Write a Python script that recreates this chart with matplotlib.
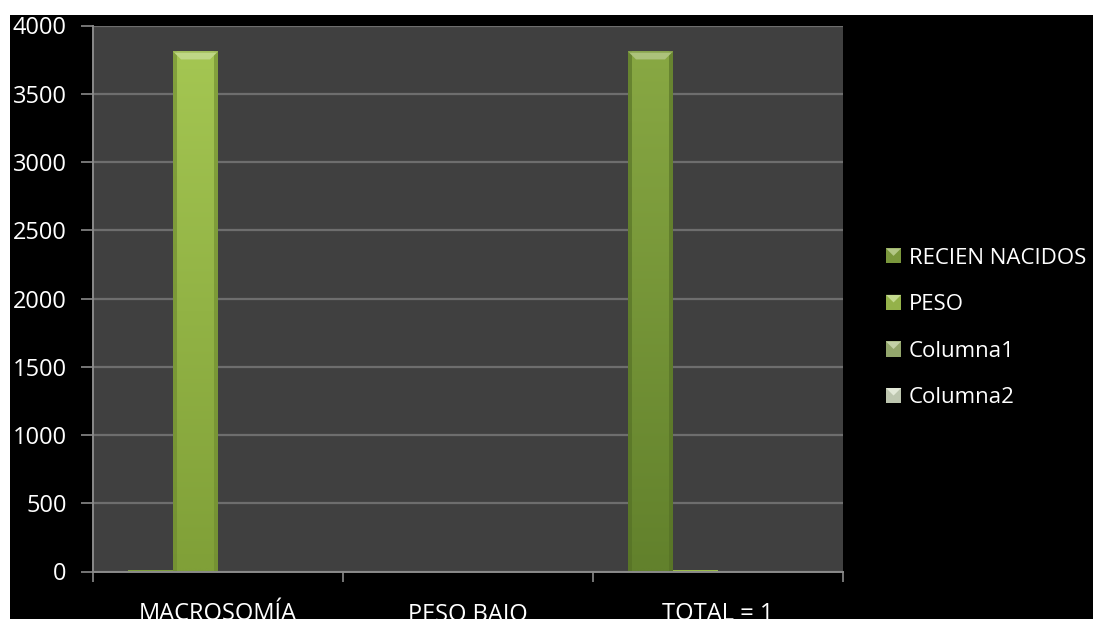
import numpy as np
import matplotlib
matplotlib.use("Agg")
import matplotlib.pyplot as plt
from matplotlib.patches import Rectangle, Polygon
from matplotlib.legend_handler import HandlerBase
from matplotlib.colors import to_rgb

plt.rcParams["font.family"] = ["Open Sans", "DejaVu Sans"]

categorias = ["MACROSOMÍA", "PESO BAJO", "TOTAL = 1"]
series = ["RECIEN NACIDOS", "PESO", "Columna1", "Columna2"]
recien_nacidos = [14, 0, 3810]
peso = [3810, 0, 14]
columna1 = [0, 0, 0]
columna2 = [0, 0, 0]
valores = [recien_nacidos, peso, columna1, columna2]

# color base (arriba, abajo) de cada serie
colores = [("#88a843", "#62812c"),
           ("#a4c652", "#80a038"),
           ("#a3b878", "#7f9457"),
           ("#d2dcc2", "#aab898")]


def aclarar(c, f):
    r, g, b = to_rgb(c)
    return (r + (1 - r) * f, g + (1 - g) * f, b + (1 - b) * f)


def oscurecer(c, f):
    r, g, b = to_rgb(c)
    return (r * (1 - f), g * (1 - f), b * (1 - f))


class HandlerBisel(HandlerBase):
    def create_artists(self, legend, orig_handle, xdescent, ydescent,
                       width, height, fontsize, trans):
        lado = min(width, height)
        x0 = -xdescent + (width - lado) / 2
        y0 = -ydescent + (height - lado) / 2
        c = orig_handle.get_facecolor()
        base = Rectangle((x0, y0), lado, lado, facecolor=oscurecer(c, 0.1),
                         edgecolor="none", transform=trans)
        m = lado * 0.5
        tri = Polygon([(x0, y0 + lado), (x0 + lado, y0 + lado),
                       (x0 + m, y0 + lado - m)], closed=True,
                      facecolor=aclarar(c, 0.35), edgecolor="none",
                      transform=trans)
        return [base, tri]


fig = plt.figure(figsize=(10.93, 6.19), dpi=100, facecolor="black")
W, H = 1093, 619
ax = fig.add_axes([93 / W, (H - 571.5) / H, 750 / W, 546 / H])
ax.set_facecolor("#404040")

x = np.arange(len(categorias))
ancho = 0.18
offsets = (np.arange(len(series)) - 1.5) * ancho

# bisel de las barras, en unidades de datos (~8 px)
dx = 8 / 250
dy = 8 * 4000 / 546

handles = []
for i, (nombre, vals) in enumerate(zip(series, valores)):
    arriba, abajo = colores[i]
    barras = ax.bar(x + offsets[i], vals, width=ancho, color=arriba,
                    edgecolor="none", zorder=3, label=nombre)
    handles.append(Rectangle((0, 0), 1, 1, facecolor=arriba, label=nombre))
    for b in barras:
        x0, y0 = b.get_x(), b.get_y()
        w, h = b.get_width(), b.get_height()
        if h <= 0:
            continue
        grad = np.linspace(0, 1, 64)[:, None, None]
        c1 = np.array(to_rgb(arriba))
        c2 = np.array(to_rgb(abajo))
        img = c2 * grad + c1 * (1 - grad)
        img = np.repeat(img, 2, axis=1)
        im = ax.imshow(img, extent=(x0, x0 + w, y0, y0 + h), origin="upper",
                       aspect="auto", zorder=4, interpolation="bilinear")
        im.set_clip_path(b)
        if h > 3 * dy:
            lados = [
                [(x0, y0), (x0 + dx * 0.5, y0), (x0 + dx * 0.5, y0 + h), (x0, y0 + h)],
                [(x0 + w, y0), (x0 + w - dx * 0.5, y0), (x0 + w - dx * 0.5, y0 + h), (x0 + w, y0 + h)],
            ]
            for p in lados:
                ax.add_patch(Polygon(p, closed=True, facecolor=oscurecer(abajo, 0.15),
                                     edgecolor="none", alpha=0.6, zorder=5))
            ax.add_patch(Polygon([(x0, y0 + h), (x0 + w, y0 + h),
                                  (x0 + w - dx, y0 + h - dy), (x0 + dx, y0 + h - dy)],
                                 closed=True, facecolor=aclarar(arriba, 0.3),
                                 edgecolor="none", zorder=6))
            ax.add_patch(Rectangle((x0, y0 + h - dy * 0.2), w, dy * 0.2,
                                   facecolor=oscurecer(arriba, 0.1), edgecolor="none",
                                   alpha=0.5, zorder=6))

ax.set_xlim(-0.5, len(categorias) - 0.5)
ax.set_ylim(0, 4000)
ax.set_yticks(np.arange(0, 4001, 500))
ax.yaxis.grid(True, color="#6e6e6e", linewidth=1.6, zorder=1)
ax.set_axisbelow(True)

# marcas entre categorías, etiquetas en el centro
ax.set_xticks(np.arange(len(categorias) + 1) - 0.5)
ax.set_xticklabels([])
ax.set_xticks(x, minor=True)
ax.set_xticklabels(categorias, minor=True)
ax.tick_params(axis="x", which="major", length=7, width=1.2, color="#8a8a8a",
               direction="out")
ax.tick_params(axis="x", which="minor", length=0, pad=22, labelsize=17,
               labelcolor="white")
ax.tick_params(axis="y", length=9, width=1.2, color="#8a8a8a", pad=10,
               labelsize=17, labelcolor="white")

for s in ["top", "right"]:
    ax.spines[s].set_visible(False)
for s in ["left", "bottom"]:
    ax.spines[s].set_color("#8a8a8a")
    ax.spines[s].set_linewidth(1.4)
    ax.spines[s].set_zorder(7)

fig.legend(handles=handles, labels=series, handler_map={Rectangle: HandlerBisel()},
           loc="center left", bbox_to_anchor=(866 / W, (H - 328) / H),
           frameon=False, fontsize=16, labelcolor="white", handlelength=0.68,
           handleheight=0.68, handletextpad=0.35, labelspacing=1.15)

# franjas blancas del borde
fig.add_artist(Rectangle((0, 1 - 15 / H), 1, 15 / H, transform=fig.transFigure,
                         facecolor="white", edgecolor="none", zorder=20))
fig.add_artist(Rectangle((0, 0), 10 / W, 1, transform=fig.transFigure,
                         facecolor="white", edgecolor="none", zorder=20))

fig.savefig("out.png", dpi=100, facecolor=fig.get_facecolor())
